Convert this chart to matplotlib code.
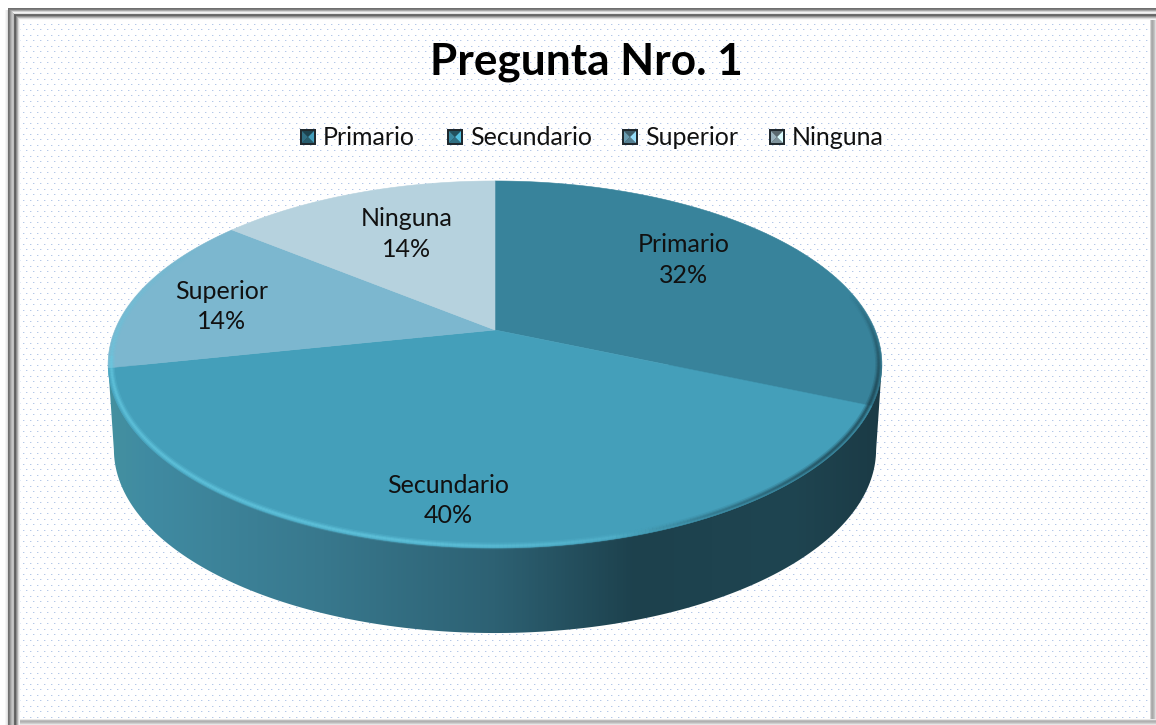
"""
Pregunta Nro. 1 - 3D looking pie, drawn in pixel coordinates.
"""

import matplotlib
matplotlib.use("Agg")
import matplotlib.pyplot as plt
import numpy as np
from matplotlib.collections import LineCollection
from matplotlib.colors import LinearSegmentedColormap, to_rgb
from matplotlib.patches import Polygon, Rectangle

W, H = 1156, 725

categories = ["Primario", "Secundario", "Superior", "Ninguna"]
values = [31.5, 40.2, 14.2, 14.1]
colors = ["#38839b", "#449fba", "#7cb7cf", "#b6d2de"]
title = "Pregunta Nro. 1"

plt.rcParams["font.family"] = ["Lato", "DejaVu Sans"]

# pie perspective
CX, CY, RX = 495, 330, 380
K, B = 0.188, -115
DEPTH, BOTTOM_SCALE = 85, 0.985


def project(t_deg, scale=1.0):
    # clockwise angle from 12 o'clock -> picture pixels
    t = np.radians(t_deg)
    u, v = np.sin(t) * scale, np.cos(t) * scale
    d = 1 + K * v
    return CX + RX * u / d, (CY + B * v) / d


def bevel_swatch(ax, x, y, size, color):
    ax.add_patch(Rectangle((x, y), size, size, fc="#20292e", ec="none", zorder=5))
    x0, y0, x1, y1 = x + 2, y + 2, x + size - 2, y + size - 2
    mx, my = x + size / 2, y + size / 2
    c = np.array(to_rgb(color))
    faces = [
        ([(x0, y0), (x1, y0), (mx, my)], c * 0.5),
        ([(x0, y1), (x1, y1), (mx, my)], c * 0.7),
        ([(x0, y0), (x0, y1), (mx, my)], c * 0.85),
        ([(x1, y0), (x1, y1), (mx, my)], np.minimum(c * 1.2, 1)),
    ]
    for pts, col in faces:
        ax.add_patch(Polygon(pts, fc=col, ec="none", zorder=6))


def draw_background(ax):
    # dotted paper plus the picture frame, pixel by pixel
    yy, xx = np.mgrid[0:H, 0:W]
    paper = np.ones((H, W, 3))
    row = yy % 11
    col = xx % 7
    dots = ((row == 2) & (col == 2)) | ((row == 7) & (col == 5))
    soft = ((row == 2) & (col == 3)) | ((row == 7) & (col == 6))
    paper[soft] = to_rgb("#e2eaf7")
    paper[dots] = to_rgb("#b4c8e8")

    top = ["#6f6f6f", "#7d7d7d", "#a6a6a6", "#d2d2d2", "#f2f2f2", "#e4e4e4",
           "#6c6c6c", "#666666", "#8f8f8f", "#b5b5b5", "#dcdcdc", "#f4f4f4"]
    left = ["#6f6f6f", "#7d7d7d", "#9c9c9c", "#b4b4b4", "#c4c4c4", "#bcbcbc",
            "#666666", "#5f5f5f", "#8c8c8c", "#b0b0b0", "#dadada", "#f2f2f2"]
    right = ["#d4d4d4", "#b0b0b0", "#a8a8a8", "#b4b4b4", "#c4c4c4", "#dedede"]
    bottom = ["#e8e8e8", "#bdbdbd", "#b0b0b0", "#bcbcbc", "#cfcfcf", "#e6e6e6"]

    paper[:8, :] = 1
    paper[:, :8] = 1
    for i, c in enumerate(right):
        paper[8 + i:, W - 6 + i] = to_rgb(c)
    for i, c in enumerate(bottom):
        paper[H - 6 + i, 8 + i:] = to_rgb(c)
    for i, c in enumerate(top):
        paper[8 + i, 8 + i:] = to_rgb(c)
    for i, c in enumerate(left):
        paper[8 + i:, 8 + i] = to_rgb(c)
    # soft shadow left of the frame
    for i, c in enumerate(["#f6f6f6", "#ececec", "#dedede"]):
        paper[10:, 5 + i] = to_rgb(c)

    ax.imshow(paper, extent=(0, W, H, 0), interpolation="nearest", zorder=0, aspect="auto")


def draw_side(ax):
    t_bottom = np.linspace(259, 101, 160)
    xb, yb = project(t_bottom)
    xb = CX + (xb - CX) * BOTTOM_SCALE
    yb = yb + DEPTH
    xl, yl = project(259)
    xr, yr = project(101)
    outline = np.column_stack([np.r_[xl, xb, xr], np.r_[yl, yb, yr]])
    clip = Polygon(outline, closed=True, transform=ax.transData, fc="none", ec="none")
    ax.add_patch(clip)

    cmap = LinearSegmentedColormap.from_list(
        "side",
        [(0.0, "#44919f"), (0.05, "#408ba2"), (0.28, "#38788d"), (0.5, "#2d6173"),
         (0.68, "#1d414d"), (0.88, "#1f4551"), (1.0, "#1b3a45")],
    )
    grad = np.linspace(0, 1, 512).reshape(1, -1)
    im = ax.imshow(grad, extent=(105, 885, 640, 360), cmap=cmap, aspect="auto", zorder=3)
    im.set_clip_path(clip)


def draw_rim(ax):
    # soft edge of the top face: light on the front left, dark on the right
    t = np.linspace(75, 300, 460)
    x, y = project(t, 0.992)
    pts = np.column_stack([x, y]).reshape(-1, 1, 2)
    segs = np.concatenate([pts[:-1], pts[1:]], axis=1)
    mid = (t[:-1] + t[1:]) / 2

    light = np.clip((mid - 150) / 40, 0, 1) * np.where(mid > 262, np.clip((300 - mid) / 38, 0, 1) * 0.6, 1)
    dark = np.clip((165 - mid) / 35, 0, 1) * np.clip((mid - 78) / 30, 0, 1)
    for width, a in [(5, 0.2), (3, 0.35), (1.4, 0.45)]:
        rgba = np.zeros((len(mid), 4))
        rgba[:, :3] = to_rgb("#66cbe3")
        rgba[:, 3] = light * a
        ax.add_collection(LineCollection(segs, colors=rgba, linewidths=width, zorder=4.2, capstyle="butt"))
        rgba = np.zeros((len(mid), 4))
        rgba[:, :3] = to_rgb("#1b3d49")
        rgba[:, 3] = dark * a
        ax.add_collection(LineCollection(segs, colors=rgba, linewidths=width, zorder=4.2, capstyle="butt"))


def main():
    fig = plt.figure(figsize=(W / 100, H / 100), dpi=100)
    fig.patch.set_facecolor("white")
    ax = fig.add_axes([0, 0, 1, 1])

    draw_background(ax)
    draw_side(ax)
    ax.set_xlim(0, W)
    ax.set_ylim(H, 0)
    ax.axis("off")

    edges = np.r_[0, np.cumsum(values)] / sum(values) * 360
    for a, b, col in zip(edges[:-1], edges[1:], colors):
        x, y = project(np.linspace(a, b, 120))
        pts = np.column_stack([np.r_[CX, x], np.r_[CY, y]])
        ax.add_patch(Polygon(pts, closed=True, fc=col, ec=col, lw=0.4, zorder=4))

    draw_rim(ax)

    ax.text(586, 62, title, ha="center", va="center", fontsize=31.8, fontweight="bold",
            color="black", zorder=7)

    swatch_x = [300, 447, 622, 769]
    text_x = [323, 470, 645, 792]
    for sx, tx, name, col in zip(swatch_x, text_x, categories, colors):
        bevel_swatch(ax, sx, 129, 16, col)
        ax.text(tx, 137.5, name, ha="left", va="center", fontsize=18, color="#111111", zorder=7)

    label_pos = [(684, 260), (448, 500.5), (222, 306.5), (407, 234)]
    for (lx, ly), name, val in zip(label_pos, categories, values):
        ax.text(lx, ly, f"{name}\n{val:.0f}%", ha="center", va="center", fontsize=18,
                linespacing=1.42, color="#111111", zorder=7)

    fig.savefig("out.png", dpi=100, facecolor="white")
    plt.close(fig)


if __name__ == "__main__":
    main()
